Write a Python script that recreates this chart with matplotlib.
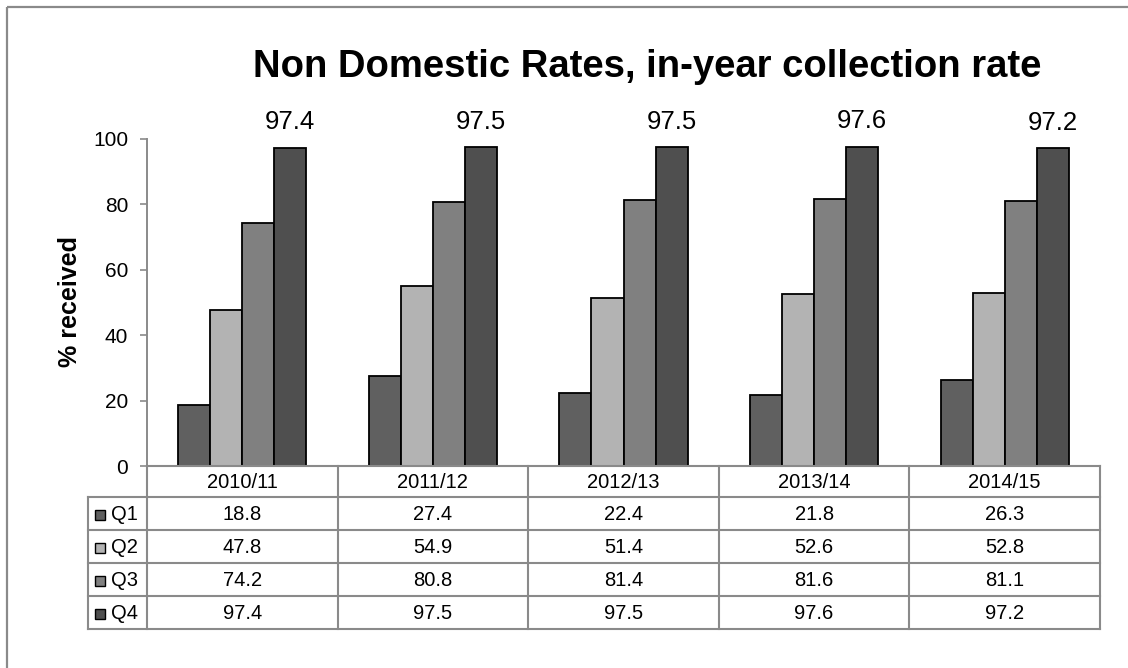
import matplotlib
matplotlib.use("Agg")
import matplotlib.pyplot as plt
import numpy as np
from matplotlib.transforms import Affine2D, blended_transform_factory
from matplotlib.patches import Rectangle

plt.rcParams['font.family'] = ['Liberation Sans', 'DejaVu Sans']

# ---- data ----
years = ["2010/11", "2011/12", "2012/13", "2013/14", "2014/15"]
quarters = ["Q1", "Q2", "Q3", "Q4"]
q1 = [18.8, 27.4, 22.4, 21.8, 26.3]
q2 = [47.8, 54.9, 51.4, 52.6, 52.8]
q3 = [74.2, 80.8, 81.4, 81.6, 81.1]
q4 = [97.4, 97.5, 97.5, 97.6, 97.2]
series = [q1, q2, q3, q4]
colors = ["#606060", "#b3b3b3", "#808080", "#4f4f4f"]
title = "Non Domestic Rates, in-year collection rate"
ylabel = "% received"
yticks = [0, 20, 40, 60, 80, 100]

W, H = 1128, 668
fig = plt.figure(figsize=(W / 100, H / 100), dpi=100)
grid_col = "#8a8a8a"

# pixel transform (origin top-left)
pix = Affine2D().scale(1 / W, -1 / H).translate(0, 1) + fig.transFigure

# outer chart frame
fig.patches.append(Rectangle((7, 7), W + 20, H + 20, transform=pix, fill=False,
                             edgecolor=grid_col, linewidth=1.6))

ax_l, ax_r, ax_t, ax_b = 147, 1100, 139, 466
ax = fig.add_axes([ax_l / W, (H - ax_b) / H, (ax_r - ax_l) / W, (ax_b - ax_t) / H])

x = np.arange(len(years))
w = 0.168
offsets = [-1.5, -0.5, 0.5, 1.5]
for vals, off, c in zip(series, offsets, colors):
    ax.bar(x + off * w, vals, width=w, color=c, edgecolor="black", linewidth=1.3, zorder=3)

# value labels above Q4
for xi, v in zip(x, q4):
    ax.annotate(f"{v}", xy=(xi + 1.5 * w, v), xytext=(0, 13.3), textcoords="offset points",
                ha="center", va="baseline", fontsize=18.5, annotation_clip=False)

ax.set_xlim(-0.5, len(years) - 0.5)
ax.set_ylim(0, 100)
ax.set_yticks(yticks)
ax.set_xticks([])
for s in ["top", "right", "bottom"]:
    ax.spines[s].set_visible(False)
ax.spines["left"].set_color(grid_col)
ax.spines["left"].set_linewidth(1.4)
ax.tick_params(axis="y", length=5, width=1.2, color=grid_col, pad=8.5, labelsize=15)

fig.text(647 / W, 1 - 67 / H, title, ha="center", va="center", fontsize=27.5, fontweight="bold")
fig.text(70 / W, 1 - 301 / H, ylabel, ha="center", va="center", rotation=90,
         fontsize=18, fontweight="bold")

# ---- data table under the axis ----
tr = blended_transform_factory(ax.transData, pix)
x0 = -0.5
x_end = len(years) - 0.5
x_lab = -0.5 + (88 - ax_l) / ((ax_r - ax_l) / len(years))
rows_y = [466, 497, 530, 563, 596, 629]
lw = 1.5

def hline(y, xa, xb):
    ax.plot([xa, xb], [y, y], color=grid_col, lw=lw, transform=tr, clip_on=False,
            solid_capstyle="projecting", zorder=4)

def vline(xv, ya, yb):
    ax.plot([xv, xv], [ya, yb], color=grid_col, lw=lw, transform=tr, clip_on=False,
            solid_capstyle="projecting", zorder=4)

hline(rows_y[0], x0, x_end)
for y in rows_y[1:]:
    hline(y, x_lab, x_end)
for k in range(len(years) + 1):
    vline(x0 + k, rows_y[0], rows_y[-1])
vline(x_lab, rows_y[1], rows_y[-1])

fs_tab = 14.5
for xi, yr in zip(x, years):
    ax.text(xi, (rows_y[0] + rows_y[1]) / 2 + 1, yr, transform=tr, ha="center", va="center",
            fontsize=fs_tab)

px_per_cat = (ax_r - ax_l) / len(years)
key_x = -0.5 + (100 - ax_l) / px_per_cat
txt_x = -0.5 + (111 - ax_l) / px_per_cat
for r, (q, vals, c) in enumerate(zip(quarters, series, colors)):
    yc = (rows_y[r + 1] + rows_y[r + 2]) / 2 + 1
    ax.plot([key_x], [yc], marker="s", markersize=7.5, markerfacecolor=c,
            markeredgecolor="black", markeredgewidth=1.0, transform=tr, clip_on=False)
    ax.text(txt_x, yc, q, transform=tr, ha="left", va="center", fontsize=fs_tab)
    for xi, v in zip(x, vals):
        ax.text(xi, yc, f"{v}", transform=tr, ha="center", va="center", fontsize=fs_tab)

fig.savefig("out.png", dpi=100, facecolor="white")
